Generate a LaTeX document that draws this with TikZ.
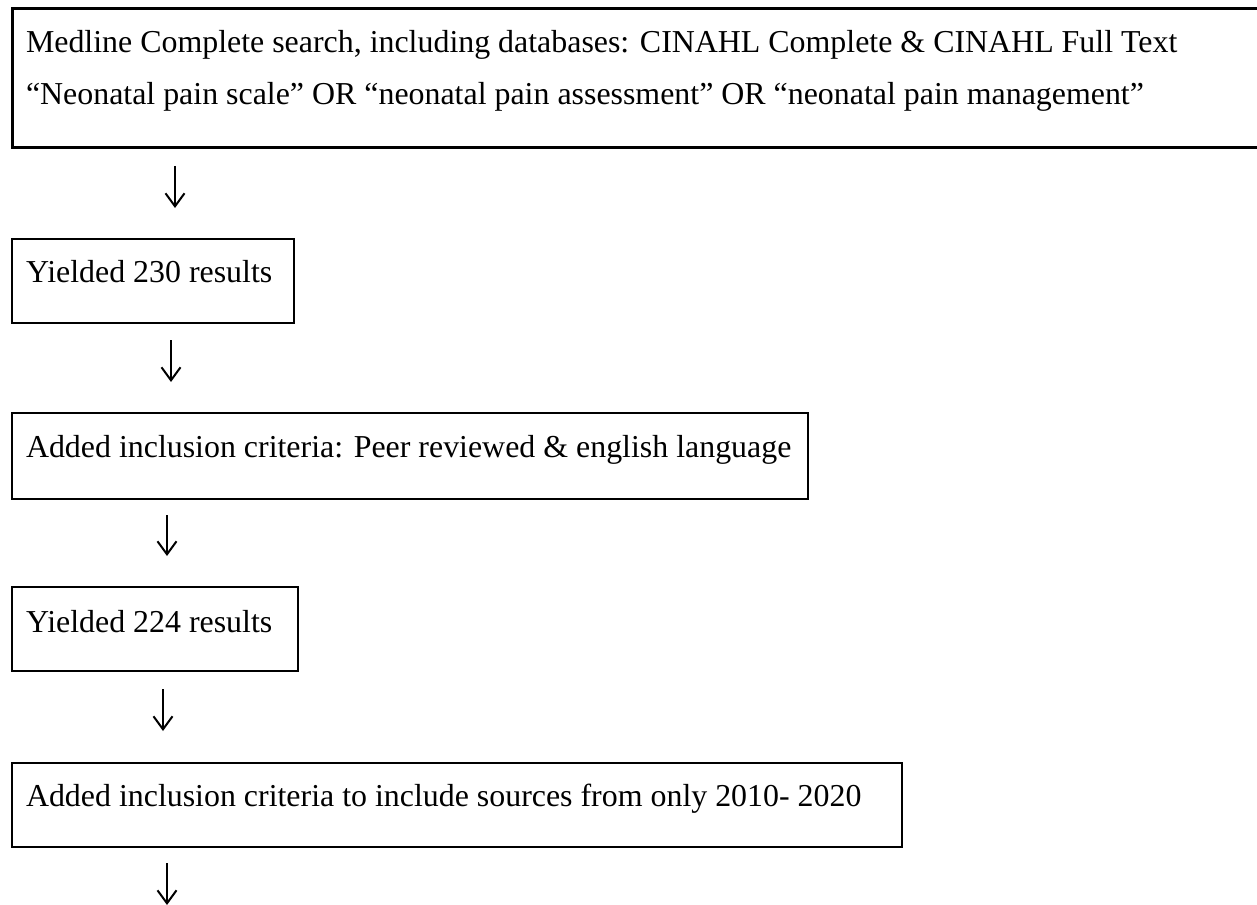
\documentclass[tikz,border=0pt]{standalone}
\usepackage{fontspec}
\setmainfont{Liberation Serif}
\usetikzlibrary{arrows.meta}
\tikzset{
  boxA/.style={draw, line width=3pt, rectangle, inner sep=0pt, outer sep=0pt, anchor=north west},
  boxB/.style={draw, line width=2pt, rectangle, inner sep=0pt, outer sep=0pt, anchor=north west},
  lbl/.style={anchor=base west, inner sep=0pt, outer sep=0pt, font=\fontsize{31.9}{38}\selectfont},
  arr/.style={line width=2pt, -{Straight Barb[length=13pt,width=19pt]}}
}
\begin{document}
\begin{tikzpicture}[x=1pt,y=-1pt]
\useasboundingbox (0,0) rectangle (1257,904);
\clip (0,0) rectangle (1257,904);
% boxes
\node[boxA, minimum width=1270pt, minimum height=139pt] (b1) at (12,9) {};
\node[boxB, minimum width=282pt, minimum height=84pt] (b2) at (12,239) {};
\node[boxB, minimum width=796pt, minimum height=86pt] (b3) at (12,413) {};
\node[boxB, minimum width=286pt, minimum height=84pt] (b4) at (12,587) {};
\node[boxB, minimum width=890pt, minimum height=84pt] (b5) at (12,763) {};
% texts
\node[lbl] (t1a) at (26,53) {Medline Complete search, including databases: CINAHL Complete \& CINAHL Full Text};
\node[lbl] (t1b) at (26,105) {“Neonatal pain scale” OR “neonatal pain assessment” OR “neonatal pain management”};
\node[lbl] (t2) at (26,282) {Yielded 230 results};
\node[lbl] (t3) at (26,457) {Added inclusion criteria: Peer reviewed \& english language};
\node[lbl] (t4) at (26,632) {Yielded 224 results};
\node[lbl] (t5) at (26,806) {Added inclusion criteria to include sources from only 2010- 2020};
% arrows
\coordinate (a1s) at (175,166); \coordinate (a1e) at (175,208);
\coordinate (a2s) at (171,340); \coordinate (a2e) at (171,382);
\coordinate (a3s) at (167,515); \coordinate (a3e) at (167,556);
\coordinate (a4s) at (163,689); \coordinate (a4e) at (163,731);
\coordinate (a5s) at (167,863); \coordinate (a5e) at (167,905);
\draw[arr] (a1s) -- (a1e);
\draw[arr] (a2s) -- (a2e);
\draw[arr] (a3s) -- (a3e);
\draw[arr] (a4s) -- (a4e);
\draw[arr] (a5s) -- (a5e);
\end{tikzpicture}
\end{document}
